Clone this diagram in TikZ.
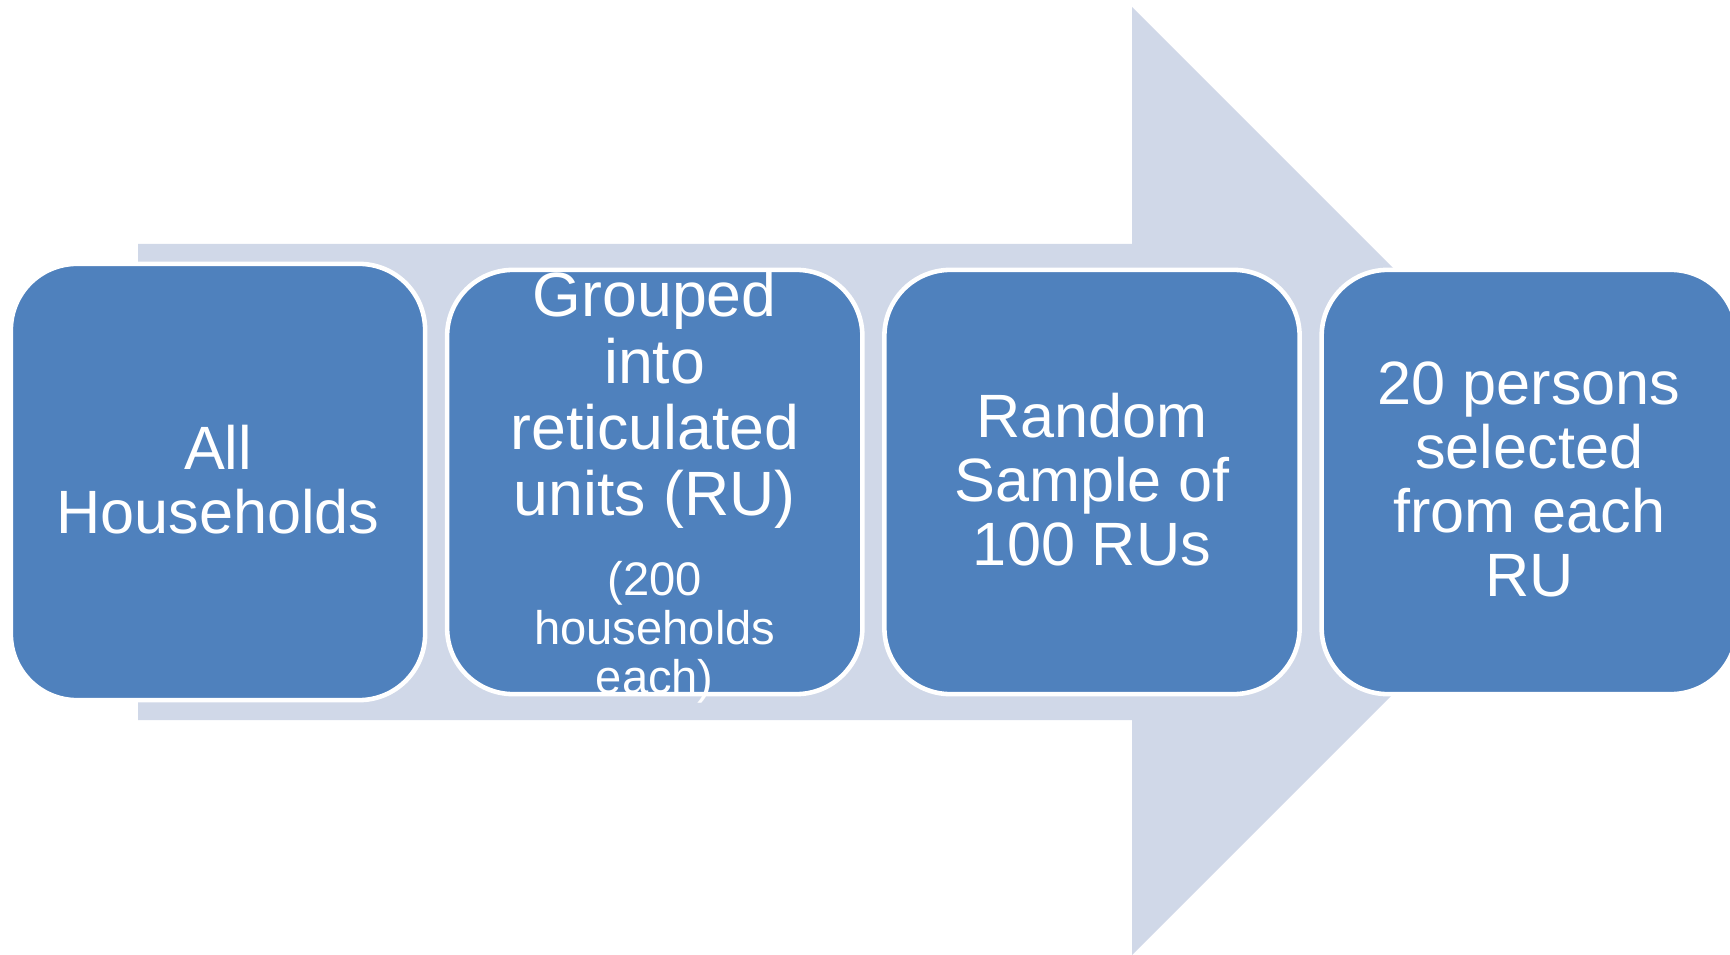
\documentclass[tikz,border=0pt]{standalone}
\usepackage{fontspec}
\setmainfont{Liberation Sans}
\usepackage{xcolor}
\usetikzlibrary{positioning}
\definecolor{stageblue}{HTML}{4F81BD}
\definecolor{arrowgrey}{HTML}{D0D8E8}

\begin{document}
\begin{tikzpicture}[x=0.01cm, y=-0.01cm, node distance=0.22cm,
    stagebox/.style={draw=white, line width=1.3pt, fill=stageblue,
        rounded corners=0.66cm, minimum width=4.15cm, minimum height=4.24cm,
        inner sep=0pt, outer sep=0pt},
    stagetext/.style={text=white, align=center, inner sep=0pt, anchor=north,
        font=\fontsize{17.4}{18.2}\selectfont}]
        \useasboundingbox (0,0) rectangle (1730,955);
        % Arrow behind the boxes
        \fill[arrowgrey] (138,244) -- (1132,244) -- (1132,7) -- (1606,481)
            -- (1132,955) -- (1132,720) -- (138,720) -- cycle;

        % Boxes
        \node[stagebox, minimum width=4.14cm, minimum height=4.36cm] (b1) at (218,482) {};
        \node[stagebox, right=of b1] (b2) {};
        \node[stagebox, right=of b2] (b3) {};
        \node[stagebox, right=of b3] (b4) {};

        % Texts
        \node[stagetext, below=1.6cm of b1.north] (t1) {All\\Households};
        \node[stagetext, below=0.01cm of b2.north,
              font=\fontsize{17.8}{18.8}\selectfont] (t2)
              {Grouped\\into\\reticulated\\units (RU)};
        \node[stagetext, below=0.32cm of t2,
              font=\fontsize{13.4}{13.9}\selectfont] (t2s)
              {(200\\households\\each)};
        \node[stagetext, below=1.23cm of b3.north] (t3) {Random\\Sample of\\100 RUs};
        \node[stagetext, below=0.91cm of b4.north] (t4)
              {20 persons\\selected\\from each\\RU};
    \end{tikzpicture}
\end{document}
